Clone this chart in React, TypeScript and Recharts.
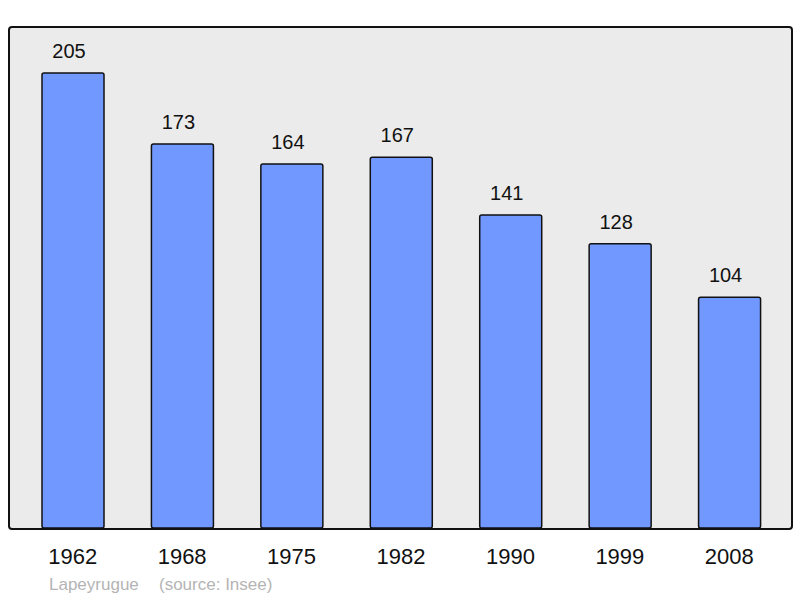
import { BarChart, Bar, XAxis, YAxis, CartesianGrid, LabelList } from 'recharts';

const YEARS = ['1962', '1968', '1975', '1982', '1990', '1999', '2008'];
const POPULATION = [205, 173, 164, 167, 141, 128, 104];
const TOWN = 'Lapeyrugue';
const SOURCE = '(source: Insee)';

const data = YEARS.map((year, i) => ({ year, pop: POPULATION[i] }));

const FONT = 'Liberation Sans, Arial, sans-serif';

const App = () => {
  return (
    <div style={styles.page}>
      <BarChart
        width={800}
        height={598}
        data={data}
        margin={{ top: 27, left: 9, right: 8, bottom: 40 }}
        barCategoryGap={0}
      >
        <CartesianGrid fill="#ebebeb" stroke="none" vertical={false} horizontal={false} />
        <XAxis
          dataKey="year"
          height={30}
          axisLine={false}
          tickLine={false}
          tickSize={0}
          tickMargin={20}
          padding={{ left: 9, right: 8 }}
          tick={{ fill: '#111', fontSize: 22, fontFamily: FONT }}
          interval={0}
        />
        <YAxis hide domain={[0, 225.7]} />
        <Bar
          dataKey="pop"
          fill="#7098ff"
          stroke="#111"
          strokeWidth={1.5}
          barSize={62}
          radius={2}
          isAnimationActive={false}
        >
          <LabelList
            dataKey="pop"
            position="top"
            offset={15}
            dx={-4}
            style={{ fill: '#111', fontSize: 20, fontFamily: FONT }}
          />
        </Bar>
      </BarChart>
      {/* plot frame */}
      <div style={styles.frame} />
      <div style={{ ...styles.note, left: 49 }}>{TOWN}</div>
      <div style={{ ...styles.note, left: 159 }}>{SOURCE}</div>
    </div>
  );
};

const styles: Record<string, React.CSSProperties> = {
  page: { position: 'absolute', left: 0, top: 0, width: 800, height: 598, background: '#fff', overflow: 'hidden' },
  frame: {
    position: 'absolute', left: 8, top: 26, width: 785, height: 504,
    border: '2px solid #111', borderRadius: 4, boxSizing: 'border-box', pointerEvents: 'none',
  },
  note: {
    position: 'absolute', top: 575, fontSize: 17, color: '#b4b4b4', whiteSpace: 'pre', fontFamily: FONT,
  },
};

export default App;
